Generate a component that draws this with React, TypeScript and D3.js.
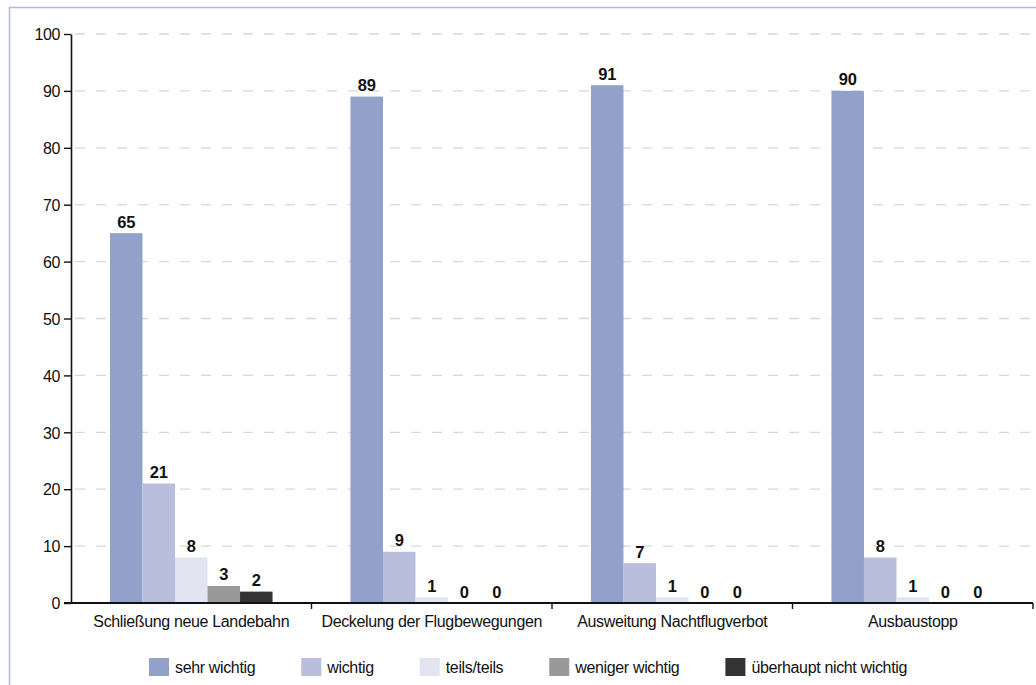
import React, { useEffect, useRef } from "react";
import * as d3 from "d3";

const categories = [
  "Schließung neue Landebahn",
  "Deckelung der Flugbewegungen",
  "Ausweitung Nachtflugverbot",
  "Ausbaustopp",
];
const seriesNames = [
  "sehr wichtig",
  "wichtig",
  "teils/teils",
  "weniger wichtig",
  "überhaupt nicht wichtig",
];
const seriesColors = ["#91a1c9", "#b8bedb", "#e2e5f1", "#999999", "#333333"];
const sehrWichtig = [65, 89, 91, 90];
const wichtig = [21, 9, 7, 8];
const teilsTeils = [8, 1, 1, 1];
const wenigerWichtig = [3, 0, 0, 0];
const ueberhauptNicht = [2, 0, 0, 0];
const yTicks = [0, 10, 20, 30, 40, 50, 60, 70, 80, 90, 100];

const seriesValues = [sehrWichtig, wichtig, teilsTeils, wenigerWichtig, ueberhauptNicht];

const W = 1036;
const H = 685;
const FONT = "'Liberation Sans', Arial, sans-serif";

export default function App() {
  const ref = useRef<SVGSVGElement>(null);

  useEffect(() => {
    document.body.style.margin = "0";
    const svg = d3.select(ref.current!);
    svg.selectAll("*").remove();

    const left = 71, right = 1033, top = 34, bottom = 603;

    svg.append("rect")
      .attr("x", 9.5).attr("y", 7.5)
      .attr("width", W + 20).attr("height", H + 20)
      .attr("fill", "#fff")
      .attr("stroke", "#b0b9d6").attr("stroke-width", 1.5);

    const y = d3.scaleLinear().domain([0, 100]).range([bottom, top]);
    const x0 = d3.scaleBand<string>().domain(categories).range([left, right]).padding(0);
    const bw = x0.bandwidth();
    const inset = bw * 0.162;
    const x1 = d3.scaleBand<string>().domain(seriesNames).range([inset, bw - inset]).padding(0);

    // grid
    svg.append("g").selectAll("line").data(yTicks.filter((t) => t > 0)).join("line")
      .attr("x1", left).attr("x2", right)
      .attr("y1", (d) => y(d)).attr("y2", (d) => y(d))
      .attr("stroke", "#d8d8d8").attr("stroke-width", 1.3)
      .attr("stroke-dasharray", "10,11").attr("stroke-dashoffset", -4);

    // bars
    const groups = svg.append("g").selectAll("g").data(categories).join("g")
      .attr("transform", (d) => `translate(${x0(d)},0)`);
    groups.each(function (cat, ci) {
      const g = d3.select(this);
      seriesNames.forEach((s, si) => {
        const v = seriesValues[si][ci];
        g.append("rect")
          .attr("x", x1(s)!).attr("width", x1.bandwidth())
          .attr("y", y(v)).attr("height", bottom - y(v))
          .attr("fill", seriesColors[si]);
        g.append("text")
          .attr("x", x1(s)! + x1.bandwidth() / 2)
          .attr("y", y(v) - 5.5)
          .attr("text-anchor", "middle")
          .attr("font-family", FONT).attr("font-weight", "bold")
          .attr("font-size", 16.5).attr("letter-spacing", "-0.3px")
          .attr("fill", "#111")
          .text(String(v));
      });
    });

    // y axis
    const yAxis = svg.append("g").attr("transform", `translate(${left},0)`)
      .call(d3.axisLeft(y).tickValues(yTicks).tickSize(7).tickSizeOuter(0).tickPadding(4));
    yAxis.select(".domain").attr("stroke", "#111").attr("stroke-width", 1.6);
    yAxis.selectAll(".tick line").attr("stroke", "#111").attr("stroke-width", 1.4);
    yAxis.selectAll(".tick text")
      .attr("font-family", FONT).attr("font-size", 16).attr("letter-spacing", "-0.4px")
      .attr("fill", "#111").attr("dy", "0.36em");

    // x axis
    const xAxisG = svg.append("g").attr("transform", `translate(0,${bottom})`);
    xAxisG.append("line").attr("x1", left - 7).attr("x2", right)
      .attr("y1", 0).attr("y2", 0).attr("stroke", "#111").attr("stroke-width", 2);
    const tickXs = categories.map((c) => x0(c)! + bw);
    xAxisG.selectAll("line.t").data(tickXs).join("line").attr("class", "t")
      .attr("x1", (d) => d).attr("x2", (d) => d).attr("y1", 0).attr("y2", 6)
      .attr("stroke", "#111").attr("stroke-width", 1.4);
    xAxisG.selectAll("text").data(categories).join("text")
      .attr("x", (d) => x0(d)! + bw / 2).attr("y", 24)
      .attr("text-anchor", "middle")
      .attr("font-family", FONT).attr("font-size", 16).attr("letter-spacing", "-0.35px")
      .attr("fill", "#111")
      .text((d) => d);

    // legend
    const legend = svg.append("g");
    const items = legend.selectAll("g").data(seriesNames).join("g");
    items.append("rect").attr("width", 20).attr("height", 18).attr("y", -9)
      .attr("fill", (_d, i) => seriesColors[i]);
    items.append("text").attr("x", 26).attr("y", 5.5)
      .attr("font-family", FONT).attr("font-size", 16).attr("letter-spacing", "-0.35px")
      .attr("fill", "#111").text((d) => d);
    const widths: number[] = [];
    items.each(function () {
      const t = d3.select(this).select("text").node() as SVGTextElement;
      widths.push(26 + t.getComputedTextLength());
    });
    const gap = 46;
    const total = widths.reduce((a, b) => a + b, 0) + gap * (widths.length - 1);
    let cx = 528 - total / 2;
    items.attr("transform", (_d, i) => {
      const px = cx;
      cx += widths[i] + gap;
      return `translate(${px},667)`;
    });
  }, []);

  return (
    <svg
      ref={ref}
      width={W}
      height={H}
      style={{ position: "absolute", left: 0, top: 0, display: "block" }}
    />
  );
}
